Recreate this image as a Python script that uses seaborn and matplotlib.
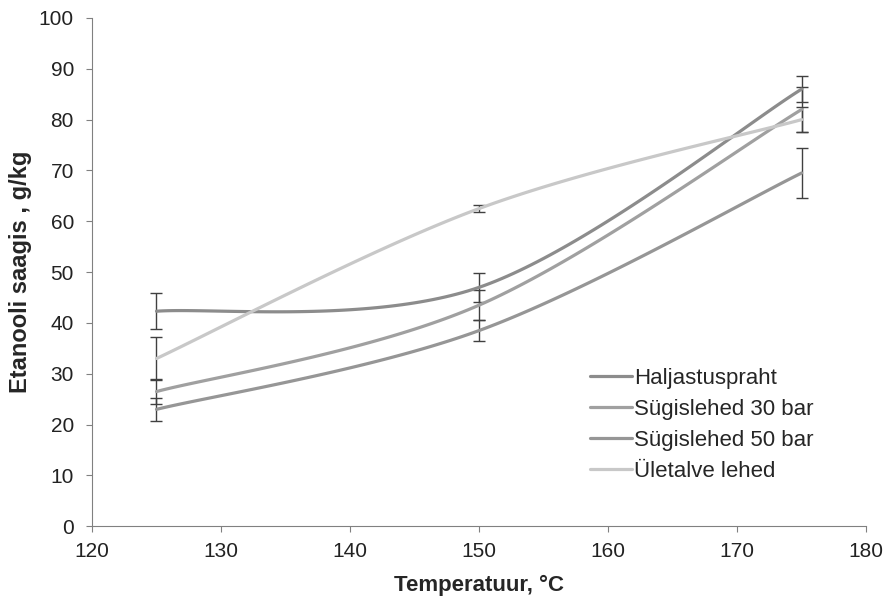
import numpy as np
import pandas as pd
import matplotlib
matplotlib.use("Agg")
import matplotlib.pyplot as plt
import seaborn as sns

temps = [125, 150, 175]
series = ["Haljastuspraht", "Sügislehed 30 bar", "Sügislehed 50 bar", "Ületalve lehed"]
values = {
    "Haljastuspraht": [42.3, 47.0, 86.0],
    "Sügislehed 30 bar": [26.5, 43.5, 82.0],
    "Sügislehed 50 bar": [23.0, 38.5, 69.5],
    "Ületalve lehed": [33.0, 62.5, 80.0],
}
errors = {
    "Haljastuspraht": [3.5, 2.8, 2.5],
    "Sügislehed 30 bar": [2.5, 3.0, 4.5],
    "Sügislehed 50 bar": [2.2, 2.0, 5.0],
    "Ületalve lehed": [4.3, 0.7, 2.5],
}
colors = ["#8c8c8c", "#a0a0a0", "#969696", "#c8c8c8"]

sns.set_style("ticks")
plt.rcParams["font.family"] = ["Liberation Sans", "DejaVu Sans"]


def excel_smooth(x, y, n=60):
    # Bezier smoothing similar to spreadsheet "smoothed line"
    p = np.column_stack([x, y]).astype(float)
    ext = np.vstack([p[0], p, p[-1]])
    out = []
    t = np.linspace(0, 1, n)[:, None]
    for i in range(len(p) - 1):
        p0, p1 = ext[i + 1], ext[i + 2]
        c1 = p0 + (ext[i + 2] - ext[i]) / 6
        c2 = p1 - (ext[i + 3] - ext[i + 1]) / 6
        seg = ((1 - t) ** 3) * p0 + 3 * ((1 - t) ** 2) * t * c1 + 3 * (1 - t) * t ** 2 * c2 + t ** 3 * p1
        out.append(seg if i == 0 else seg[1:])
    return np.vstack(out)


fig, ax = plt.subplots(figsize=(8.93, 5.98), dpi=100)
fig.subplots_adjust(left=0.103, right=0.970, top=0.970, bottom=0.120)

for name, c in zip(series, colors):
    ax.errorbar(temps, values[name], yerr=errors[name], fmt="none", ecolor="#404040",
                elinewidth=1.0, capsize=4.5, capthick=1.0, zorder=1)
    curve = excel_smooth(temps, values[name])
    df = pd.DataFrame({"x": curve[:, 0], "y": curve[:, 1]})
    sns.lineplot(data=df, x="x", y="y", ax=ax, color=c, linewidth=2.3, label=name,
                 sort=False, estimator=None, zorder=2)

ax.set_xlim(120, 180)
ax.set_ylim(0, 100)
ax.set_xticks(range(120, 181, 10))
ax.set_yticks(range(0, 101, 10))
ax.tick_params(labelsize=15, colors="#808080", labelcolor="#222222", length=4)
ax.tick_params(axis="y", pad=9)
ax.tick_params(axis="x", pad=7)
for s in ["left", "bottom"]:
    ax.spines[s].set_color("#808080")
sns.despine(ax=ax)
ax.set_xlabel("Temperatuur, °C", fontsize=16, fontweight="bold", labelpad=10)
ax.set_ylabel("Etanooli saagis , g/kg", fontsize=17, fontweight="bold", labelpad=5)

ax.legend(loc="upper left", bbox_to_anchor=(590 / 893, 1 - 368 / 598), bbox_transform=fig.transFigure,
          frameon=False, fontsize=16, borderpad=0, borderaxespad=0,
          handlelength=1.9, handletextpad=0.1, labelspacing=0.45)

fig.savefig("out.png", dpi=100)
